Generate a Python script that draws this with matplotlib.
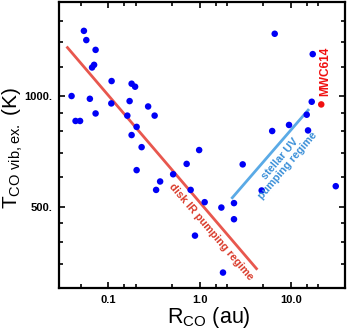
import matplotlib
matplotlib.use("Agg")
import matplotlib.pyplot as plt
from matplotlib.ticker import FixedLocator, FixedFormatter, NullFormatter

plt.rcParams['font.family'] = ['Liberation Sans', 'DejaVu Sans']
plt.rcParams['mathtext.fontset'] = 'custom'
plt.rcParams['mathtext.rm'] = 'Liberation Sans'

# data (R_CO in au, T in K)
r_co = [0.0543, 0.0577, 0.0729, 0.0702, 0.0667, 0.1091, 0.1806, 0.1972, 0.0398, 0.0631,
        0.1717, 0.1083, 0.2738, 0.0729, 0.0440, 0.0493, 0.1621, 0.3225, 0.2049, 0.1806,
        0.2324, 0.2049, 0.3348, 0.990, 0.7225, 2.964, 0.514, 0.3704, 0.799, 16.87,
        14.87, 9.52, 6.23, 15.37, 30.9, 4.78, 6.64, 17.30, 1.137, 1.732,
        2.380, 2.380, 0.891, 1.804]
t_co = [1500, 1416, 1332, 1213, 1193, 1096, 1078, 1058, 998, 981,
        967, 953, 935, 895, 854, 854, 883, 883, 823, 782,
        725, 628, 555, 712, 653, 651, 612, 585, 555, 963,
        888, 833, 802, 805, 568, 553, 1473, 1297, 514, 497,
        511, 462, 417, 331]
mwc_r = [21.44]
mwc_t = [947]
disk_line_r = [0.0351, 4.29]
disk_line_t = [1360, 337]
uv_line_r = [2.229, 15.76]
uv_line_t = [525, 920]
xticks_major = [0.1, 1.0, 10.0]
xticklabels = ['0.1', '1.0', '10.0']
xticks_minor = [0.05, 0.15, 0.2, 0.5, 1.5, 2, 5, 15, 20]
yticks_major = [500, 1000]
yticklabels = ['500.', '1000.']
yticks_minor = [350, 400, 450, 600, 700, 800, 900, 1200, 1400, 1600]

W, H = 349.0, 336.0
L, R_, T_, B = 59.0, 345.0, 1.7, 288.3
fig = plt.figure(figsize=(3.49, 3.36), dpi=100)
ax = fig.add_axes([L / W, 1 - B / H, (R_ - L) / W, (B - T_) / H])
ax.set_xscale('log')
ax.set_yscale('log')
ax.set_xlim(0.029, 39)
ax.set_ylim(300, 1800)


def frac(px, py):
    return ((px - L) / (R_ - L), (B - py) / (B - T_))


ax.plot(disk_line_r, disk_line_t, color='#E8574E', lw=2.0, solid_capstyle='butt', zorder=2)
ax.plot(uv_line_r, uv_line_t, color='#5AAAE6', lw=2.0, solid_capstyle='butt', zorder=2)
ax.scatter(r_co, t_co, s=22, color='#0000F5', edgecolors='none', zorder=3)
ax.scatter(mwc_r, mwc_t, s=22, color='#F01010', edgecolors='none', zorder=3)

ax.text(*frac(211, 232), 'disk IR pumping regime', color='#D93A2A', fontsize=7.8,
        fontweight='bold', rotation=-49.5, ha='center', va='center',
        rotation_mode='anchor', transform=ax.transAxes)
ax.text(*frac(284, 162), 'stellar UV\npumping regime', color='#3A8FD8', fontsize=7.8,
        fontweight='bold', rotation=49.5, ha='center', va='center',
        rotation_mode='anchor', linespacing=1.0, multialignment='center',
        transform=ax.transAxes)
ax.text(*frac(325, 71), 'MWC614', color='#F01010', fontsize=8.6,
        fontweight='bold', rotation=90, ha='center', va='center', transform=ax.transAxes)

ax.xaxis.set_major_locator(FixedLocator(xticks_major))
ax.xaxis.set_major_formatter(FixedFormatter(xticklabels))
ax.xaxis.set_minor_locator(FixedLocator(xticks_minor))
ax.xaxis.set_minor_formatter(NullFormatter())
ax.yaxis.set_major_locator(FixedLocator(yticks_major))
ax.yaxis.set_major_formatter(FixedFormatter(yticklabels))
ax.yaxis.set_minor_locator(FixedLocator(yticks_minor))
ax.yaxis.set_minor_formatter(NullFormatter())

ax.tick_params(which='both', direction='in', top=True, right=True, width=1.2, colors='black')
ax.tick_params(which='major', length=4.5, labelsize=8, pad=5)
ax.tick_params(which='minor', length=2.8)
for lab in ax.get_xticklabels() + ax.get_yticklabels():
    lab.set_fontweight('bold')
for sp in ax.spines.values():
    sp.set_linewidth(1.6)

ax.set_xlabel(r'R$_{\mathregular{CO}}$ (au)', fontsize=15.5)
ax.set_ylabel(r'T$_{\mathregular{CO\ vib,ex.}}$ (K)', fontsize=15)
ax.xaxis.set_label_coords(*frac(208.5, 305))
ax.yaxis.set_label_coords(*frac(25.5, 148))

fig.savefig('out.png', dpi=100)
